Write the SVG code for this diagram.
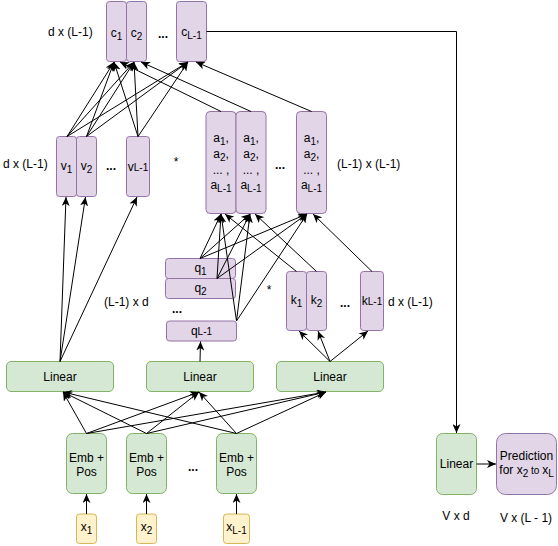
<svg xmlns="http://www.w3.org/2000/svg" width="558" height="546" viewBox="0 0 558 546">
<defs>
<marker id="arr" markerUnits="userSpaceOnUse" markerWidth="9" markerHeight="8" viewBox="0 0 9 8" refX="9" refY="4" orient="auto">
<path d="M0,0 L9,4 L0,8 L2.5,4 Z" fill="#000"/>
</marker>
<style>
text{font-family:"Liberation Sans",Arial,sans-serif;font-size:12px;fill:#000}
.m{text-anchor:middle}
.s{font-size:10px}
.b{font-weight:bold}
.p{fill:#e1d5e7;stroke:#9673a6;stroke-width:1}
.g{fill:#d5e8d4;stroke:#82b366;stroke-width:1}
.y{fill:#fff2cc;stroke:#d6b656;stroke-width:1}
#edges line,#edges polyline{stroke:#000;stroke-width:1;fill:none;marker-end:url(#arr)}
</style>
</defs>
<rect width="558" height="546" fill="#fff"/>

<g id="labels">
<text x="48" y="36">d x (L-1)</text>
<text x="3" y="168">d x (L-1)</text>
<text x="337" y="168">(L-1) x (L-1)</text>
<text x="104" y="306">(L-1) x d</text>
<text x="388" y="306">d x (L-1)</text>
<text class="m" x="456" y="520">V x d</text>
<text class="m" x="526" y="522">V x (L - 1)</text>
<text class="m b" x="163" y="38">...</text>
<text class="m b" x="111" y="170">...</text>
<text class="m b" x="280" y="169">...</text>
<text class="m b" x="177" y="313">...</text>
<text class="m b" x="345" y="307">...</text>
<text class="m b" x="193" y="471">...</text>
<text class="m" x="176" y="166">*</text>
<text class="m" x="269" y="294">*</text>
</g>

<g id="c1"><rect class="p" x="106.5" y="1.5" width="20" height="60" rx="3"/><text class="m" x="116.5" y="37">c<tspan class="s" dy="3">1</tspan></text></g>
<g id="c2"><rect class="p" x="126.5" y="1.5" width="20" height="60" rx="3"/><text class="m" x="136.5" y="37">c<tspan class="s" dy="3">2</tspan></text></g>
<g id="cL1"><rect class="p" x="176.5" y="1.5" width="30" height="60" rx="3"/><text class="m" x="191.5" y="36">c<tspan class="s" dy="3">L-1</tspan></text></g>

<g id="v1"><rect class="p" x="56.5" y="136.5" width="20" height="60" rx="3"/><text class="m" x="66.5" y="170">v<tspan class="s" dy="3">1</tspan></text></g>
<g id="v2"><rect class="p" x="76.5" y="136.5" width="20" height="60" rx="3"/><text class="m" x="86.5" y="170">v<tspan class="s" dy="3">2</tspan></text></g>
<g id="vL1"><rect class="p" x="126.5" y="136.5" width="23" height="60" rx="3"/><text class="m" x="138" y="171">v<tspan class="s">L-1</tspan></text></g>

<g id="a1"><rect class="p" x="206" y="111.5" width="30" height="102" rx="4"/>
<text class="m" x="221" y="142">a<tspan class="s" dy="3">1</tspan><tspan dy="-3">,</tspan></text>
<text class="m" x="221" y="158">a<tspan class="s" dy="3">2</tspan><tspan dy="-3">,</tspan></text>
<text class="m" x="221" y="174">... ,</text>
<text class="m" x="221" y="189">a<tspan class="s" dy="3">L-1</tspan></text></g>
<g id="a2"><rect class="p" x="236" y="111.5" width="30" height="102" rx="4"/>
<text class="m" x="251" y="142">a<tspan class="s" dy="3">1</tspan><tspan dy="-3">,</tspan></text>
<text class="m" x="251" y="158">a<tspan class="s" dy="3">2</tspan><tspan dy="-3">,</tspan></text>
<text class="m" x="251" y="174">... ,</text>
<text class="m" x="251" y="189">a<tspan class="s" dy="3">L-1</tspan></text></g>
<g id="aL1"><rect class="p" x="296.5" y="111.5" width="30" height="102" rx="4"/>
<text class="m" x="311.5" y="142">a<tspan class="s" dy="3">1</tspan><tspan dy="-3">,</tspan></text>
<text class="m" x="311.5" y="158">a<tspan class="s" dy="3">2</tspan><tspan dy="-3">,</tspan></text>
<text class="m" x="311.5" y="174">... ,</text>
<text class="m" x="311.5" y="189">a<tspan class="s" dy="3">L-1</tspan></text></g>

<g id="q1"><rect class="p" x="165.5" y="258.5" width="70" height="20" rx="3"/><text class="m" x="200.5" y="272">q<tspan class="s" dy="3">1</tspan></text></g>
<g id="q2"><rect class="p" x="165.5" y="278.5" width="70" height="20" rx="3"/><text class="m" x="200.5" y="292">q<tspan class="s" dy="3">2</tspan></text></g>
<g id="qL1"><rect class="p" x="166.5" y="321" width="70" height="20" rx="3"/><text class="m" x="201.5" y="335">q<tspan class="s">L-1</tspan></text></g>

<g id="k1"><rect class="p" x="286.5" y="271.5" width="20" height="59" rx="3"/><text class="m" x="296.5" y="304">k<tspan class="s" dy="3">1</tspan></text></g>
<g id="k2"><rect class="p" x="306.5" y="271.5" width="20" height="59" rx="3"/><text class="m" x="316.5" y="304">k<tspan class="s" dy="3">2</tspan></text></g>
<g id="kL1"><rect class="p" x="360.5" y="271.5" width="23" height="59" rx="3"/><text class="m" x="372" y="305">k<tspan class="s">L-1</tspan></text></g>

<g id="lin1"><rect class="g" x="6.5" y="361.5" width="107" height="30" rx="4.5"/><text class="m" x="60" y="381">Linear</text></g>
<g id="lin2"><rect class="g" x="146.5" y="361.5" width="107" height="30" rx="4.5"/><text class="m" x="200" y="381">Linear</text></g>
<g id="lin3"><rect class="g" x="276.5" y="361.5" width="107" height="30" rx="4.5"/><text class="m" x="330" y="381">Linear</text></g>

<g id="emb1"><rect class="g" x="66.5" y="433.5" width="40" height="60" rx="6"/><text class="m" x="86.5" y="462">Emb +</text><text class="m" x="86.5" y="476">Pos</text></g>
<g id="emb2"><rect class="g" x="126.5" y="433.5" width="40" height="60" rx="6"/><text class="m" x="146.5" y="462">Emb +</text><text class="m" x="146.5" y="476">Pos</text></g>
<g id="emb3"><rect class="g" x="216.5" y="433.5" width="40" height="60" rx="6"/><text class="m" x="236.5" y="462">Emb +</text><text class="m" x="236.5" y="476">Pos</text></g>

<g id="x1"><rect class="y" x="76.5" y="514" width="20" height="29.5" rx="3"/><text class="m" x="86.5" y="531">x<tspan class="s" dy="3">1</tspan></text></g>
<g id="x2"><rect class="y" x="136.5" y="514" width="20" height="29.5" rx="3"/><text class="m" x="146.5" y="531">x<tspan class="s" dy="3">2</tspan></text></g>
<g id="xL1"><rect class="y" x="223.5" y="514" width="26" height="29.5" rx="3"/><text class="m" x="236.5" y="531">x<tspan class="s" dy="3">L-1</tspan></text></g>

<g id="linOut"><rect class="g" x="436.5" y="433.5" width="40" height="61" rx="6"/><text class="m" x="456.5" y="468">Linear</text></g>
<g id="pred"><rect class="p" x="496.5" y="433.5" width="60" height="61" rx="9"/><text class="m" x="526.5" y="460">Prediction</text><text class="m" x="526.5" y="474">for x<tspan class="s" dy="3">2</tspan><tspan class="s" dy="-3"> to </tspan>x<tspan class="s" dy="3">L</tspan></text></g>

<g id="edges">
<!-- x to emb -->
<line x1="86.5" y1="514" x2="86.5" y2="494"/>
<line x1="146.5" y1="514" x2="146.5" y2="494"/>
<line x1="236.5" y1="514" x2="236.5" y2="494"/>
<!-- emb to linear -->
<line x1="86.5" y1="433.5" x2="63" y2="392"/>
<line x1="86.5" y1="433.5" x2="199" y2="392"/>
<line x1="86.5" y1="433.5" x2="326" y2="392"/>
<line x1="146.5" y1="433.5" x2="63" y2="392"/>
<line x1="146.5" y1="433.5" x2="199" y2="392"/>
<line x1="146.5" y1="433.5" x2="326" y2="392"/>
<line x1="236.5" y1="433.5" x2="63" y2="392"/>
<line x1="236.5" y1="433.5" x2="199" y2="392"/>
<line x1="236.5" y1="433.5" x2="326" y2="392"/>
<!-- linear to v, q, k -->
<line x1="60" y1="361.5" x2="66" y2="197"/>
<line x1="60" y1="361.5" x2="85.5" y2="197"/>
<line x1="60" y1="361.5" x2="137" y2="197"/>
<line x1="200" y1="361.5" x2="200.5" y2="341.5"/>
<line x1="330" y1="361.5" x2="299" y2="331"/>
<line x1="330" y1="361.5" x2="318" y2="331"/>
<line x1="330" y1="361.5" x2="368" y2="331"/>
<!-- q to a -->
<line x1="200" y1="258.5" x2="221" y2="214"/>
<line x1="200" y1="258.5" x2="250" y2="214"/>
<line x1="200" y1="258.5" x2="307" y2="214"/>
<line x1="217" y1="278.5" x2="221" y2="214"/>
<line x1="217" y1="278.5" x2="250" y2="214"/>
<line x1="217" y1="278.5" x2="307" y2="214"/>
<line x1="236.5" y1="321" x2="221" y2="214"/>
<line x1="236.5" y1="321" x2="250" y2="214"/>
<line x1="236.5" y1="321" x2="307" y2="214"/>
<!-- k to a -->
<line x1="296.5" y1="271.5" x2="225" y2="214"/>
<line x1="316.5" y1="271.5" x2="255" y2="214"/>
<line x1="372" y1="271.5" x2="313" y2="214"/>
<!-- v to c -->
<line x1="67" y1="136.5" x2="114" y2="62"/>
<line x1="67" y1="136.5" x2="134" y2="62"/>
<line x1="67" y1="136.5" x2="188" y2="62"/>
<line x1="86.5" y1="136.5" x2="114" y2="62"/>
<line x1="86.5" y1="136.5" x2="134" y2="62"/>
<line x1="86.5" y1="136.5" x2="188" y2="62"/>
<line x1="138" y1="136.5" x2="114" y2="62"/>
<line x1="138" y1="136.5" x2="134" y2="62"/>
<line x1="138" y1="136.5" x2="188" y2="62"/>
<!-- a to c -->
<line x1="221" y1="111.5" x2="120" y2="62"/>
<line x1="251" y1="111.5" x2="141" y2="62"/>
<line x1="311.5" y1="111.5" x2="196" y2="62"/>
<!-- c to output linear -->
<polyline points="206.5,31.5 456.5,31.5 456.5,433"/>
<line x1="476.5" y1="464" x2="496" y2="464"/>
</g>
</svg>
